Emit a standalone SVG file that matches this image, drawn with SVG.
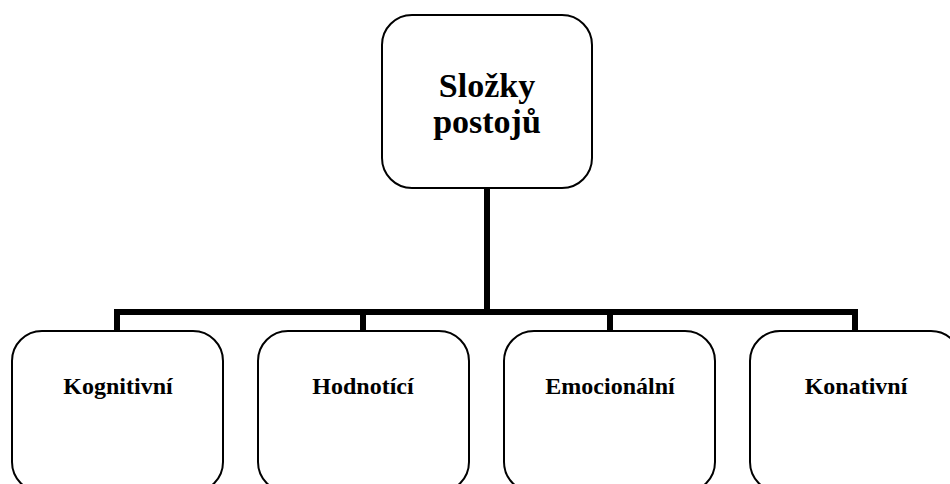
<svg xmlns="http://www.w3.org/2000/svg" width="950" height="484" viewBox="0 0 950 484">
<style>
.box{fill:#fff;stroke:#000;stroke-width:2}
.lbl{font-family:"Liberation Serif","Times New Roman",serif;font-weight:bold;fill:#000;text-anchor:middle}
.top{font-size:34px}
.sub{font-size:24px}
.conn{fill:none;stroke:#000;stroke-width:6;stroke-linejoin:miter;stroke-linecap:butt}
</style>
<rect width="950" height="484" fill="#fff"/>
<g id="connectors">
<path class="conn" d="M487,188 V312"/>
<path class="conn" d="M117,331 V312 H855 V331"/>
<path class="conn" d="M363,312 V331"/>
<path class="conn" d="M610,312 V331"/>
</g>
<g id="root">
<rect class="box" x="382" y="15" width="210" height="173" rx="30" ry="30"/>
<text class="lbl top" x="487" y="97">Složky</text>
<text class="lbl top" x="487" y="133">postojů</text>
</g>
<g id="kognitivni">
<rect class="box" x="12" y="331" width="211" height="161" rx="30" ry="30"/>
<text class="lbl sub" x="118" y="394">Kognitivní</text>
</g>
<g id="hodnotici">
<rect class="box" x="258" y="331" width="211" height="161" rx="30" ry="30"/>
<text class="lbl sub" x="363" y="394">Hodnotící</text>
</g>
<g id="emocionalni">
<rect class="box" x="504" y="331" width="211" height="161" rx="30" ry="30"/>
<text class="lbl sub" x="610" y="394">Emocionální</text>
</g>
<g id="konativni">
<rect class="box" x="750" y="331" width="211" height="161" rx="30" ry="30"/>
<text class="lbl sub" x="856" y="394">Konativní</text>
</g>
</svg>
